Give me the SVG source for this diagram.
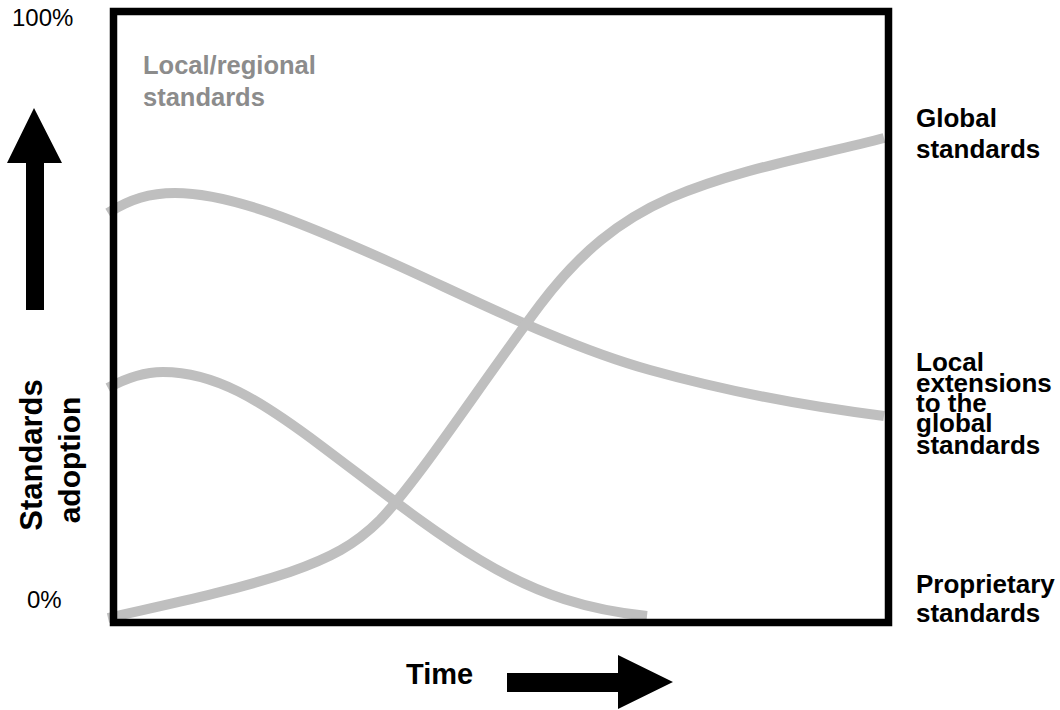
<svg xmlns="http://www.w3.org/2000/svg" width="1060" height="710" viewBox="0 0 1060 710">
  <style>
    .curve { fill: none; stroke: #BFBFBF; stroke-width: 10; stroke-linecap: butt; }
    .lbl { font-family: "Liberation Sans", Arial, sans-serif; font-weight: bold; font-size: 26px; fill: #000; }
    .pct { font-family: "Liberation Sans", Arial, sans-serif; font-size: 24px; fill: #000; }
    .arrow { fill: #000; }
  </style>
  <rect x="0" y="0" width="1060" height="710" fill="#fff"/>

  <g id="curves">
    <path id="curve-local-regional" class="curve" d="M108,213 C130,199 150,193 175,193 C230,193 300,222 390,262 C460,293 560,345 650,370 C740,395 820,408 884,416"/>
    <path id="curve-proprietary" class="curve" d="M108,388 C128,377 145,372 163,372 C215,372 260,400 320,445 C380,490 430,530 480,560 C540,596 590,610 647,616"/>
    <path id="curve-global" class="curve" d="M108,618 C160,606 230,592 290,572 C330,558 355,545 380,520 C420,478 480,385 540,305 C580,252 620,220 670,198 C740,168 820,155 884,138"/>
  </g>

  <rect id="frame" x="113.5" y="11.5" width="775" height="611" fill="none" stroke="#000" stroke-width="7.5"/>

  <g id="label-100">
    <text class="pct" x="12" y="26">100%</text>
  </g>
  <g id="label-0">
    <text class="pct" x="27" y="608">0%</text>
  </g>

  <g id="y-arrow">
    <polygon class="arrow" points="26,310 44,310 44,163 62,163 34,108 7,163 26,163"/>
  </g>

  <g id="y-label">
    <text class="lbl" style="font-size:31px" text-anchor="middle" transform="rotate(-90)" x="-455" y="42">Standards</text>
    <text class="lbl" style="font-size:30px" text-anchor="middle" transform="rotate(-90)" x="-460" y="80">adoption</text>
  </g>

  <g id="x-axis">
    <text class="lbl" style="font-size:29px" x="406" y="684">Time</text>
    <polygon class="arrow" points="507,673 618,673 618,655 673,682 618,709 618,692 507,692"/>
  </g>

  <g id="label-local-regional">
    <text class="lbl" style="fill:#8C8C8C;font-size:25.5px" x="143" y="74">Local/regional</text>
    <text class="lbl" style="fill:#8C8C8C;font-size:25.5px" x="143" y="106">standards</text>
  </g>

  <g id="label-global">
    <text class="lbl" x="916" y="127">Global</text>
    <text class="lbl" x="916" y="158">standards</text>
  </g>

  <g id="label-local-extensions">
    <text class="lbl" x="916" y="371">Local</text>
    <text class="lbl" x="916" y="392">extensions</text>
    <text class="lbl" x="916" y="412">to the</text>
    <text class="lbl" x="916" y="432">global</text>
    <text class="lbl" x="916" y="454">standards</text>
  </g>

  <g id="label-proprietary">
    <text class="lbl" x="916" y="593">Proprietary</text>
    <text class="lbl" x="916" y="622">standards</text>
  </g>
</svg>
